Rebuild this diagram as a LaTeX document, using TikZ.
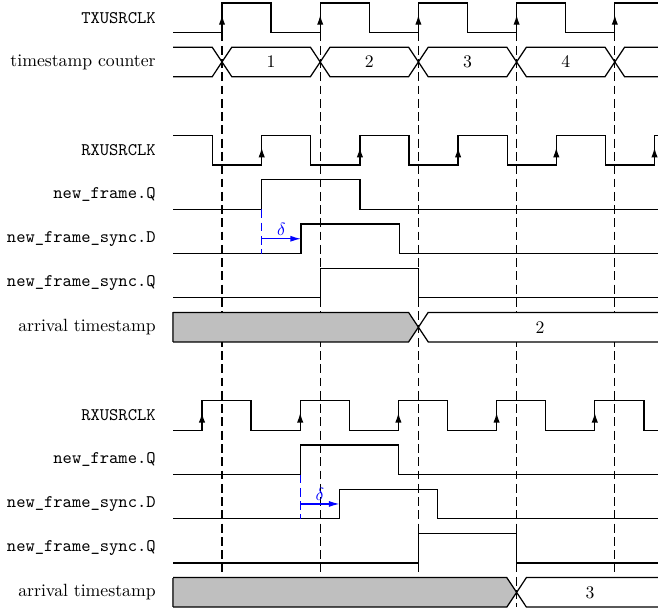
\documentclass[tikz,border=0pt]{standalone}
\usetikzlibrary{arrows.meta}
\tikzset{
  wave/.style={line width=0.7pt, line join=miter},
  clkarrow/.style={line width=0.7pt, -{Latex[length=5.5pt,width=3.6pt]}},
  guide/.style={line width=0.7pt, dash pattern=on 5pt off 2.5pt},
  bluedash/.style={line width=0.7pt, blue, dash pattern=on 5pt off 2.5pt},
  bluearrow/.style={line width=0.7pt, blue, -{Latex[length=6pt,width=3.4pt]}},
  lbl/.style={anchor=east, inner sep=0pt},
  busfill/.style={fill=white},
  grayfill/.style={fill=gray!50},
  buslbl/.style={inner sep=0pt}
}
\begin{document}
\begin{tikzpicture}[x=0.565pt,y=-0.565pt]
\useasboundingbox (0,0) rectangle (658,611);

% ---- labels
\node (lTX)  [lbl] at (156,17.75)  {\texttt{TXUSRCLK}};
\node (lCNT) [lbl] at (156,61.95)  {timestamp counter};
\node (lRXa) [lbl] at (156,150.35) {\texttt{RXUSRCLK}};
\node (lNQa) [lbl] at (156,194.55) {\texttt{new\_frame.Q}};
\node (lSDa) [lbl] at (156,238.75) {\texttt{new\_frame\_sync.D}};
\node (lSQa) [lbl] at (156,282.95) {\texttt{new\_frame\_sync.Q}};
\node (lATa) [lbl] at (156,327.15) {arrival timestamp};
\node (lRXb) [lbl] at (156,415.55) {\texttt{RXUSRCLK}};
\node (lNQb) [lbl] at (156,459.75) {\texttt{new\_frame.Q}};
\node (lSDb) [lbl] at (156,503.95) {\texttt{new\_frame\_sync.D}};
\node (lSQb) [lbl] at (156,548.15) {\texttt{new\_frame\_sync.Q}};
\node (lATb) [lbl] at (156,592.35) {arrival timestamp};

% ---- vertical guides at TXUSRCLK rising edges
\foreach \x [count=\i] in {222,320.2,418.4,516.6,614.8} {
  \coordinate (gTop\i) at (\x,32.5);
  \coordinate (gBot\i) at (\x,607);
  \draw[guide] (gTop\i) -- (gBot\i);
}

% ---- TXUSRCLK
\draw[wave] (173,32.5) -- (222,32.5) -- (222,3) -- (271.1,3) -- (271.1,32.5)
  -- (320.2,32.5) -- (320.2,3) -- (369.3,3) -- (369.3,32.5)
  -- (418.4,32.5) -- (418.4,3) -- (467.5,3) -- (467.5,32.5)
  -- (516.6,32.5) -- (516.6,3) -- (565.7,3) -- (565.7,32.5)
  -- (614.8,32.5) -- (614.8,3) -- (658,3);
\foreach \x in {222,320.2,418.4,516.6,614.8}
  \draw[clkarrow] (\x,32.5) -- (\x,15);

% ---- timestamp counter
\draw[wave,busfill] (173,47.2) -- (212.2,47.2) -- (222,61.95) -- (212.2,76.7) -- (173,76.7);
\foreach \a/\b/\t/\m in {222/320.2/1/271.1, 320.2/418.4/2/369.3, 418.4/516.6/3/467.5, 516.6/614.8/4/565.7} {
  \draw[wave,busfill] (\a,61.95) -- (\a+9.8,47.2) -- (\b-9.8,47.2) -- (\b,61.95)
    -- (\b-9.8,76.7) -- (\a+9.8,76.7) -- cycle;
  \node (cnt\t) [buslbl] at (\m,61.95) {\t};
}
\draw[wave,busfill] (658,47.2) -- (624.6,47.2) -- (614.8,61.95) -- (624.6,76.7) -- (658,76.7);

% ==== first case
\draw[wave] (173,135.6) -- (212.6,135.6) -- (212.6,165.1) -- (261.7,165.1) -- (261.7,135.6)
  -- (310.8,135.6) -- (310.8,165.1) -- (359.9,165.1) -- (359.9,135.6)
  -- (409,135.6) -- (409,165.1) -- (458.1,165.1) -- (458.1,135.6)
  -- (507.2,135.6) -- (507.2,165.1) -- (556.3,165.1) -- (556.3,135.6)
  -- (605.4,135.6) -- (605.4,165.1) -- (654.5,165.1) -- (654.5,135.6) -- (658,135.6);
\foreach \x in {261.7,359.9,458.1,556.3,654.5}
  \draw[clkarrow] (\x,165.1) -- (\x,147.6);

\draw[wave] (173,209.3) -- (261.7,209.3) -- (261.7,179.8) -- (359.9,179.8) -- (359.9,209.3) -- (658,209.3);
\draw[wave] (173,253.5) -- (301,253.5) -- (301,224) -- (399.2,224) -- (399.2,253.5) -- (658,253.5);
\draw[wave] (173,297.7) -- (320.2,297.7) -- (320.2,268.2) -- (418.4,268.2) -- (418.4,297.7) -- (658,297.7);

\coordinate (dAtop) at (261.7,209.3);
\coordinate (dAbot) at (261.7,253.5);
\coordinate (dAs) at (261.7,238.75);
\coordinate (dAe) at (301,238.75);
\draw[bluedash] (dAtop) -- (dAbot);
\draw[bluearrow] (dAs) -- node[above, inner sep=1.5pt, text=blue] (deltaA) {$\delta$} (dAe);

\fill[grayfill] (173,312.4) -- (408.6,312.4) -- (418.4,327.15) -- (408.6,341.9) -- (173,341.9) -- cycle;
\draw[line width=0.7pt, gray!60!black] (173,312.4) -- (173,341.9);
\draw[wave] (173,312.4) -- (408.6,312.4) -- (418.4,327.15) -- (408.6,341.9) -- (173,341.9);
\draw[wave,busfill] (658,312.4) -- (428.2,312.4) -- (418.4,327.15) -- (428.2,341.9) -- (658,341.9);
\node (atA) [buslbl] at (540,327.15) {2};

% ==== second case
\draw[wave] (173,430.3) -- (202,430.3) -- (202,400.8) -- (251.1,400.8) -- (251.1,430.3)
  -- (300.2,430.3) -- (300.2,400.8) -- (349.3,400.8) -- (349.3,430.3)
  -- (398.4,430.3) -- (398.4,400.8) -- (447.5,400.8) -- (447.5,430.3)
  -- (496.6,430.3) -- (496.6,400.8) -- (545.7,400.8) -- (545.7,430.3)
  -- (594.8,430.3) -- (594.8,400.8) -- (643.9,400.8) -- (643.9,430.3) -- (658,430.3);
\foreach \x in {202,300.2,398.4,496.6,594.8}
  \draw[clkarrow] (\x,430.3) -- (\x,412.8);

\draw[wave] (173,474.5) -- (300.2,474.5) -- (300.2,445) -- (398.4,445) -- (398.4,474.5) -- (658,474.5);
\draw[wave] (173,518.7) -- (339.5,518.7) -- (339.5,489.2) -- (437.7,489.2) -- (437.7,518.7) -- (658,518.7);
\draw[wave] (173,562.9) -- (418.4,562.9) -- (418.4,533.4) -- (516.6,533.4) -- (516.6,562.9) -- (658,562.9);

\coordinate (dBtop) at (300.2,474.5);
\coordinate (dBbot) at (300.2,518.7);
\coordinate (dBs) at (300.2,503.95);
\coordinate (dBe) at (339.5,503.95);
\draw[bluedash] (dBtop) -- (dBbot);
\draw[bluearrow] (dBs) -- node[above, inner sep=1.5pt, text=blue] (deltaB) {$\delta$} (dBe);

\fill[grayfill] (173,577.6) -- (506.8,577.6) -- (516.6,592.35) -- (506.8,607.1) -- (173,607.1) -- cycle;
\draw[line width=0.7pt, gray!60!black] (173,577.6) -- (173,607.1);
\draw[wave] (173,577.6) -- (506.8,577.6) -- (516.6,592.35) -- (506.8,607.1) -- (173,607.1);
\draw[wave,busfill] (658,577.6) -- (526.4,577.6) -- (516.6,592.35) -- (526.4,607.1) -- (658,607.1);
\node (atB) [buslbl] at (590,592.35) {3};
\end{tikzpicture}
\end{document}
